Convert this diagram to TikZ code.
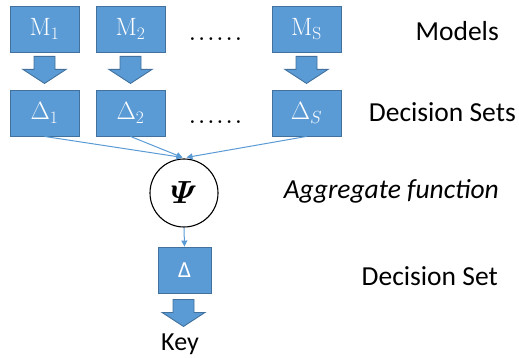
\RequirePackage{fix-cm}
\documentclass[tikz,border=0pt]{standalone}
\usepackage{amsmath}
\usepackage[no-math]{fontspec}
\setmainfont{Carlito}
\usetikzlibrary{arrows.meta,calc}
\definecolor{boxblue}{HTML}{5B9BD5}
\definecolor{boxline}{HTML}{41719C}
\tikzset{
  box/.style={draw=boxline, fill=boxblue, line width=0.9pt, minimum width=69pt, minimum height=46pt, inner sep=0pt, text=white, font=\fontsize{25}{29}\selectfont},
  conn/.style={draw=boxblue, line width=1pt, -{Triangle[length=6pt,width=6pt]}},
  lbl/.style={inner sep=0pt, font=\fontsize{27.5}{32}\selectfont},
  dotrow/.style={inner sep=0pt, anchor=base, font=\fontsize{18}{22}\selectfont\boldmath},
  blockdown/.pic={\draw[draw=boxline, fill=boxblue, line width=0.9pt, line join=miter] (-10.5,0) -- (10.5,0) -- (10.5,13) -- (21.5,13) -- (0,27) -- (-21.5,13) -- (-10.5,13) -- cycle;}
}
\begin{document}
\begin{tikzpicture}[x=1pt,y=-1pt]
\useasboundingbox (0,0) rectangle (519,358);
% models
\node[box] (m1) at (44.5,29) {$\mathrm{M}_1$};
\node[box] (m2) at (130.5,29) {$\mathrm{M}_2$};
\node[box] (ms) at (306.5,29) {$\mathrm{M}_\mathrm{S}$};
% decision sets
\node[box] (d1) at (44.5,113) {$\Delta_1$};
\node[box] (d2) at (130.5,113) {$\Delta_2$};
\node[box] (ds) at (306.5,113) {$\Delta_S$};
% dots
\node[dotrow] (dotsA) at (215.5,40.5) {$\ldots\ldots$};
\node[dotrow] (dotsB) at (215.5,123.5) {$\ldots\ldots$};
% block arrows
\pic at ($(m1.south)+(0,4)$) {blockdown};
\pic at ($(m2.south)+(0,4)$) {blockdown};
\pic at ($(ms.south)+(0,4)$) {blockdown};
% aggregate
\node[circle, draw=black, line width=1.1pt, fill=white, minimum size=68pt, inner sep=0pt, font=\fontsize{32}{36}\selectfont] (psi) at (184,193) {$\boldsymbol{\varPsi}$};
\coordinate (tipL) at ($(psi.north)+(-1.5,-1)$);
\coordinate (tipR) at ($(psi.north)+(2.5,-1)$);
\draw[conn] (d1.south) -- (tipL);
\draw[conn] (d2.south) -- (tipL);
\draw[conn] (ds.south) -- (tipR);
% final decision set
\node[box, minimum width=53pt, font=\fontsize{23}{27}\selectfont] (d) at (184.5,270) {Δ};
\draw[conn] (psi.south) -- (d.north);
\pic at ($(d.south)+(-1,6)$) {blockdown};
\node[lbl, anchor=base, font=\fontsize{26}{30}\selectfont] (key) at (180,350) {Key};
% labels
\node[lbl, anchor=base east] (lm) at (499,41) {Models};
\node[lbl, anchor=base east] (lds) at (516,122) {Decision Sets};
\node[lbl, anchor=base east, font=\fontsize{27.5}{32}\selectfont\itshape] (lag) at (499,199) {Aggregate function};
\node[lbl, anchor=base east] (lde) at (498,285) {Decision Set};
\end{tikzpicture}
\end{document}
